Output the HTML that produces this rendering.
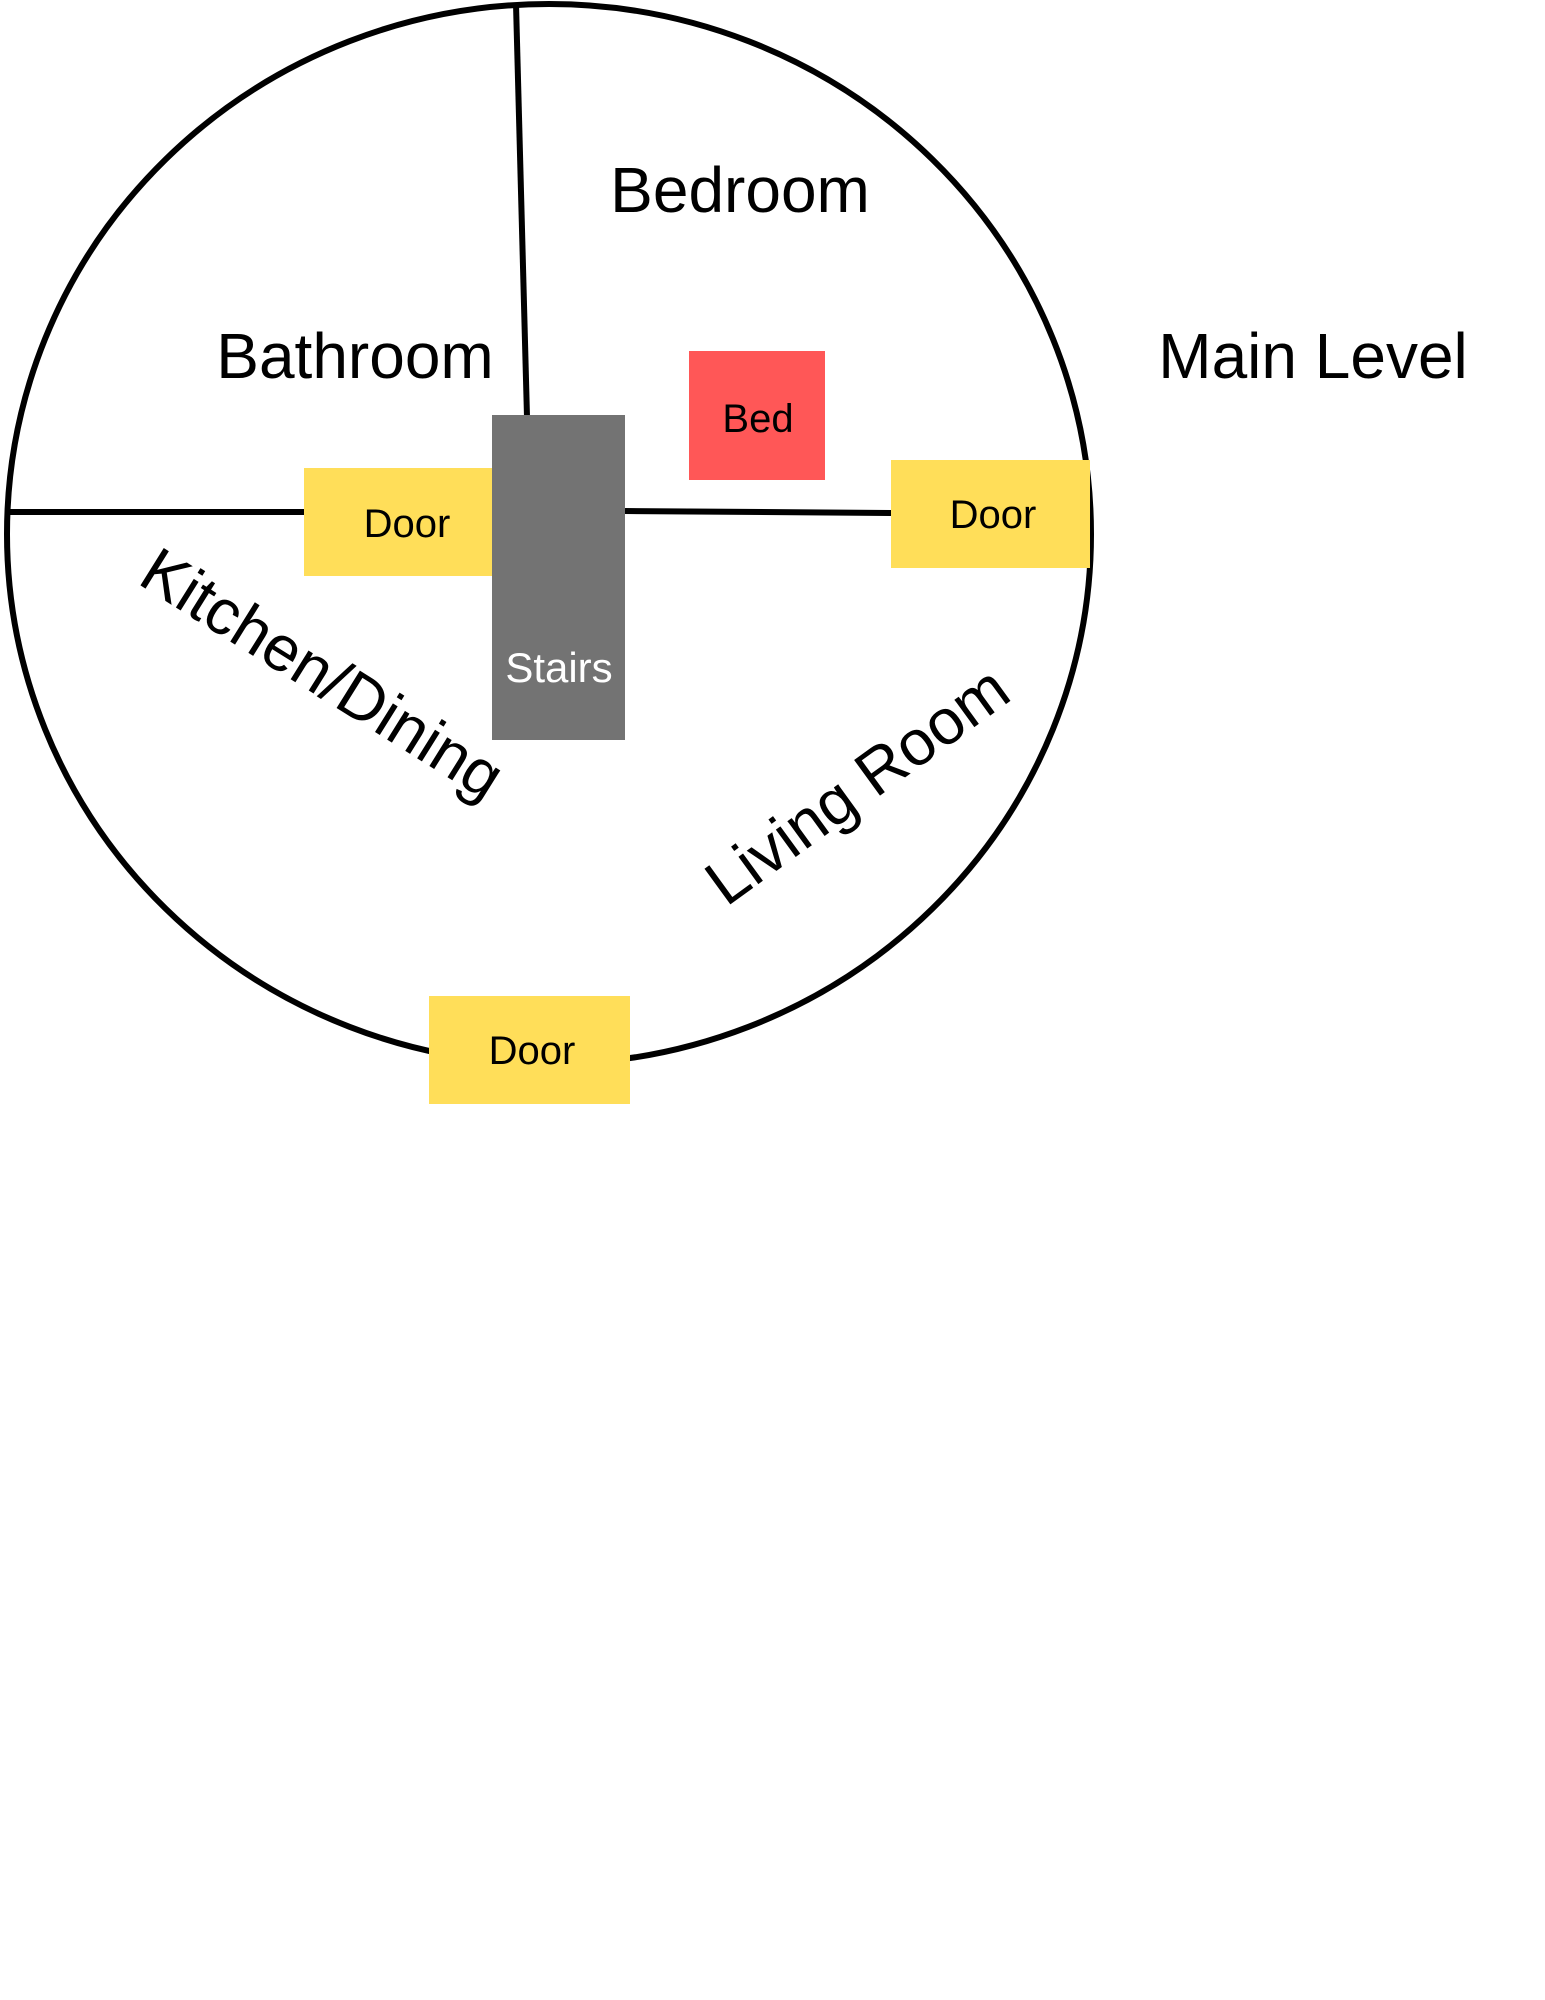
<!DOCTYPE html>
<html><head><meta charset="utf-8"><style>
html,body{margin:0;padding:0;background:#fff;}
svg{display:block;}
text{font-family:"Liberation Sans","DejaVu Sans",sans-serif;}
</style></head><body>
<svg width="1545" height="2000" viewBox="0 0 1545 2000" xmlns="http://www.w3.org/2000/svg">
<rect width="1545" height="2000" fill="#fff"/>
<ellipse cx="549" cy="534" rx="542" ry="530" fill="none" stroke="#000" stroke-width="6"/>
<line x1="516" y1="4" x2="527" y2="417" stroke="#000" stroke-width="6"/>
<line x1="6" y1="512" x2="305" y2="512" stroke="#000" stroke-width="6"/>
<line x1="625" y1="511" x2="892" y2="513" stroke="#000" stroke-width="6"/>
<rect x="304" y="468" width="189" height="108" fill="#ffde59"/>
<rect x="492" y="415" width="133" height="325" fill="#737373"/>
<rect x="689" y="351" width="136" height="129" fill="#ff5757"/>
<rect x="891" y="460" width="199" height="108" fill="#ffde59"/>
<rect x="429" y="996" width="201" height="108" fill="#ffde59"/>
<g font-size="40" text-anchor="middle" fill="#000">
<text x="407" y="537">Door</text>
<text x="993" y="528">Door</text>
<text x="532" y="1064">Door</text>
<text x="758" y="432">Bed</text>
<text x="559" y="682" fill="#fff" font-size="42">Stairs</text>
</g>
<g font-size="64" text-anchor="middle" fill="#000">
<text x="740" y="212">Bedroom</text>
<text x="355" y="378">Bathroom</text>
<text x="1313" y="378">Main Level</text>
<text transform="translate(311,692) rotate(32)">Kitchen/Dining</text>
<text transform="translate(870,803) rotate(-36)">Living Room</text>
</g>
</svg>
</body></html>
